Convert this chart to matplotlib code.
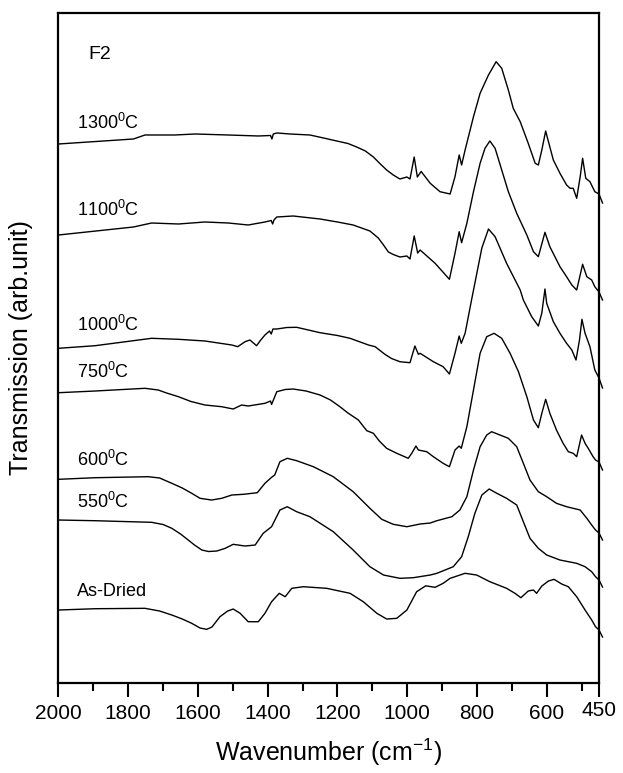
import matplotlib
matplotlib.use('Agg')
import matplotlib.pyplot as plt
from matplotlib.ticker import FixedLocator

plt.rcParams['font.family'] = ['Liberation Sans', 'DejaVu Sans']
plt.rcParams['mathtext.fontset'] = 'custom'
plt.rcParams['mathtext.rm'] = 'Liberation Sans'
plt.rcParams['mathtext.it'] = 'Liberation Sans:italic'
plt.rcParams['mathtext.bf'] = 'Liberation Sans:bold'

# FTIR spectra of sample F2, stacked with offsets (arb. units)
w_1300 = [2000, 1785, 1752, 1666, 1608, 1513, 1427, 1392, 1388, 1384, 1374, 1336, 1279, 1240, 1202,
          1170, 1145, 1120, 1097, 1080, 1059, 1040, 1021, 1001, 992, 980, 971, 960, 934, 906, 877,
          863, 851, 844, 834, 810, 791, 767, 745, 729, 710, 696, 676, 653, 633, 624, 614, 603, 595,
          581, 562, 543, 533, 524, 514, 504, 497, 488, 476, 462, 450, 440]
t_1300 = [539, 544, 548, 548, 549, 548, 547, 547.5, 544, 549, 550, 549, 548, 545, 542,
          539.5, 536, 532, 526, 520, 513, 508, 504, 506, 504, 526, 506, 511.5, 499.7, 491.3, 489,
          506.3, 528, 518, 533, 566.3, 589.7, 608, 621.3, 614.7, 593, 574.7, 561.3, 539.7, 519.7,
          518, 533, 552, 541.3, 523, 509.7, 498, 494.7, 494.7, 484.7, 506.3, 524.7, 504.7, 501.3,
          491.3, 489, 480]

w_1100 = [2000, 1785, 1733, 1656, 1580, 1513, 1456, 1408, 1390, 1386, 1382, 1374, 1327, 1250, 1200,
          1155, 1107, 1083, 1068, 1054, 1040, 1021, 1001, 992, 980, 970, 963, 920, 879, 863, 851,
          844, 829, 810, 791, 777, 763, 748, 729, 710, 686, 657, 638, 624, 605, 591, 562, 543, 528,
          514, 497, 485, 471, 462, 450, 440]
t_1100 = [448, 456, 460, 459, 461, 460, 458, 461, 462.5, 459, 463, 466, 467, 464, 461,
          458, 452, 445, 438, 431, 428.5, 426, 427, 424, 447, 430, 433, 419.7, 403.7, 429.7, 451.3,
          440.3, 459.7, 491.3, 519.7, 534.7, 542, 534.7, 513, 491.3, 469.7, 448, 431.3, 426.3,
          450.7, 436.3, 416.3, 406.3, 398, 393, 418.7, 406.3, 403, 396.3, 391, 383]

w_1000 = [2000, 1895, 1733, 1656, 1580, 1503, 1486, 1465, 1451, 1432, 1420, 1408, 1395, 1390, 1385,
          1374, 1345, 1317, 1250, 1200, 1164, 1111, 1092, 1064, 1045, 1021, 992, 978, 968, 963, 925,
          897, 879, 863, 851, 845, 834, 815, 786, 767, 748, 715, 676, 667, 643, 624, 614, 605, 600,
          581, 562, 543, 528, 516, 506, 499, 490, 476, 462, 450, 440]
t_1000 = [334.7, 337.3, 344.7, 343.7, 342, 338, 336.3, 341.3, 343, 337.3, 343, 348, 352, 349, 354,
          354, 355.5, 355.7, 350.3, 347.5, 344.7, 338, 336.3, 328.7, 324.5, 321.3, 320.3, 337, 328.7,
          329.7, 321.3, 316.3, 309, 329.7, 347, 339.7, 349.7, 384, 435, 454, 446.3, 419.7, 393, 383,
          366.3, 357, 370, 394, 379.7, 361.3, 349.7, 339.7, 333, 323, 343, 363.7, 349.7, 336.3, 313,
          305, 295]

w_750 = [2000, 1895, 1752, 1714, 1690, 1656, 1620, 1580, 1532, 1499, 1475, 1456, 1408, 1392, 1389,
         1374, 1350, 1327, 1290, 1250, 1220, 1193, 1170, 1140, 1116, 1097, 1080, 1059, 1030, 997,
         987, 975, 968, 944, 925, 897, 879, 863, 851, 845, 829, 810, 791, 772, 751, 729, 705, 681,
         657, 638, 624, 614, 603, 591, 572, 553, 538, 524, 514, 500, 490, 481, 467, 460, 450, 440]
t_750 = [290.3, 292, 294.7, 293, 290, 286.3, 281.5, 278, 276.3, 274, 278, 277, 279.7, 282, 278.5,
         291.3, 293.5, 294, 292, 288, 283, 276.3, 270, 263, 252.3, 249.7, 242, 234.7, 229.7, 224.7,
         229.7, 237, 233, 231.3, 226.3, 219.7, 216.3, 233, 237, 234.7, 256.3, 293, 329.7, 346.3,
         349.7, 344.7, 329.7, 311.3, 286.3, 263, 255.3, 269.7, 283.7, 269.7, 253, 239.7, 231.3,
         229.7, 226.3, 248, 239.7, 234.7, 226.3, 223, 221, 213]

w_600 = [2000, 1895, 1742, 1710, 1675, 1645, 1618, 1594, 1561, 1532, 1503, 1470, 1430, 1408, 1389,
         1380, 1365, 1344, 1317, 1269, 1212, 1155, 1107, 1073, 1040, 1001, 963, 934, 915, 872, 849,
         829, 810, 791, 772, 758, 734, 710, 686, 667, 648, 624, 600, 572, 543, 504, 485, 471, 460,
         450, 440]
t_600 = [203.7, 205.3, 206.3, 205, 199.7, 195, 189.7, 184.7, 183, 184.7, 188, 188.7, 190.3, 199.7,
         205.7, 208, 221.3, 224.7, 222.3, 216.3, 206.3, 191.3, 174.7, 163.7, 158.7, 156.3, 159,
         160, 162.3, 166.3, 173, 186.3, 213, 236.3, 248, 251.3, 248, 244.7, 236.3, 219.7, 203,
         191.3, 186.3, 179.7, 176.3, 173, 164.7, 158, 153, 150, 143]

w_550 = [2000, 1895, 1733, 1700, 1675, 1650, 1628, 1610, 1589, 1570, 1546, 1522, 1499, 1465, 1436,
         1413, 1389, 1365, 1344, 1317, 1279, 1212, 1155, 1107, 1068, 1021, 983, 934, 915, 868, 844,
         825, 806, 786, 765, 743, 715, 686, 667, 648, 624, 600, 562, 514, 490, 471, 460, 450, 440]
t_550 = [163, 162.3, 160.7, 158.5, 154.7, 149, 143, 138, 133, 131.5, 132, 134.7, 138.7, 137, 138,
         149.7, 156.3, 173, 176.3, 171.3, 166.3, 151.3, 133, 116.3, 108, 104.7, 105.3, 108, 109.7,
         116.3, 126.3, 146.3, 169.7, 188, 194, 189.7, 184.7, 178, 161.3, 144.7, 134.7, 128, 123,
         119.7, 116.3, 111.3, 106.3, 103, 96]

w_dried = [2000, 1895, 1752, 1710, 1675, 1645, 1618, 1594, 1575, 1560, 1537, 1515, 1499, 1479, 1456,
           1427, 1408, 1389, 1367, 1350, 1331, 1298, 1231, 1164, 1126, 1087, 1059, 1030, 1001, 973,
           947, 920, 897, 877, 834, 801, 763, 715, 691, 674, 653, 638, 629, 614, 595, 579, 557, 538,
           514, 490, 471, 460, 450, 440]
t_dried = [73, 74.3, 74.7, 72, 68, 64, 59.7, 55, 53.7, 56, 66.3, 72, 74, 69.7, 61.3,
           61.3, 69.7, 81.3, 89.7, 86.3, 94.7, 96.3, 94.7, 89.7, 81.3, 69.7, 64, 64.7, 73, 91.3,
           97.2, 95.7, 99.7, 104.7, 109.7, 108, 101.3, 94.7, 89.7, 85.3, 92, 93, 89.7, 97, 102,
           103.7, 99, 96.3, 86.3, 73, 63, 56.3, 53, 46]

series = [(w_1300, t_1300), (w_1100, t_1100), (w_1000, t_1000), (w_750, t_750),
          (w_600, t_600), (w_550, t_550), (w_dried, t_dried)]
labels = ['1300$^0$C', '1100$^0$C', '1000$^0$C', '750$^0$C', '600$^0$C', '550$^0$C', 'As-Dried']
label_y = [553.7, 467, 352.3, 305.3, 217, 174.7, 87.3]

xticks = [2000, 1800, 1600, 1400, 1200, 1000, 800, 600, 450]
xminor = [1900, 1700, 1500, 1300, 1100, 900, 700, 500]

fig = plt.figure(figsize=(6.23, 7.73), dpi=100)
ax = fig.add_axes([0.0939, 0.1164, 0.8676, 0.8668])

for w, t in series:
    ax.plot(w, t, color='black', lw=1.0, clip_on=False)

for lab, y in zip(labels, label_y):
    ax.text(1947, y, lab, fontsize=13, ha='left', va='baseline')
ax.text(1915, 623.7, 'F2', fontsize=14, ha='left', va='baseline')

ax.set_xlim(2000, 450)
ax.set_ylim(0, 670)
ax.xaxis.set_major_locator(FixedLocator(xticks))
ax.xaxis.set_minor_locator(FixedLocator(xminor))
ax.set_xticklabels([str(v) for v in xticks])
ax.set_yticks([])

for s in ax.spines.values():
    s.set_linewidth(1.6)
ax.tick_params(axis='x', which='major', direction='out', length=10, width=1.5,
               labelsize=15, pad=5)
ax.tick_params(axis='x', which='minor', direction='out', length=6, width=1.5)
# the last label sits a little higher in the original
ax.get_xticklabels()[-1].set_y(0.005)

ax.set_xlabel('Wavenumber (cm$^{-1}$)', fontsize=18, labelpad=10)
ax.set_ylabel('Transmission (arb.unit)', fontsize=18, labelpad=18)

fig.savefig('out.png', dpi=100)
